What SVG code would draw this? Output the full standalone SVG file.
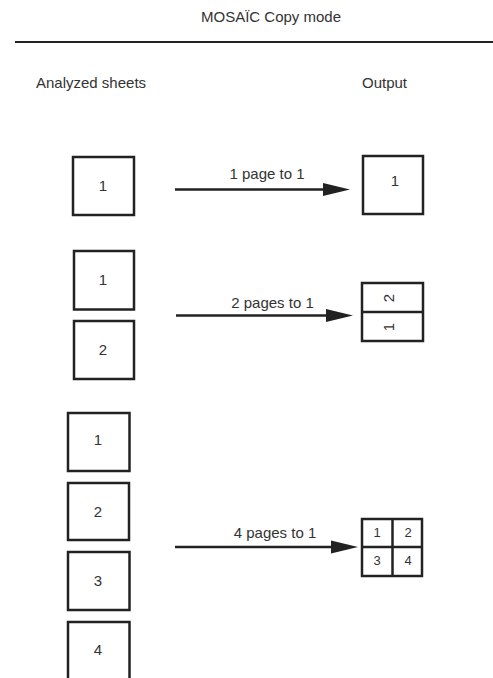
<svg xmlns="http://www.w3.org/2000/svg" width="493" height="678" viewBox="0 0 493 678">
<defs>
<style>
text{font-family:"Liberation Sans",Arial,sans-serif;fill:#333;font-size:15px}
.c{text-anchor:middle}
.s{font-size:13px}
.box{fill:#fff;stroke:#222;stroke-width:2.5}
.ln{stroke:#222;stroke-width:2.5;fill:none}
.conn line{stroke:#222;stroke-width:2.5}
.conn polygon{fill:#222}
</style>
</defs>
<rect width="493" height="678" fill="#fff"/>
<g id="header">
<text class="c" x="271" y="22">MOSAÏC Copy mode</text>
<line x1="15" y1="42" x2="493" y2="42" stroke="#222" stroke-width="2"/>
<text x="36" y="88">Analyzed sheets</text>
<text x="362" y="88">Output</text>
</g>
<g id="r1-in">
<rect class="box" x="73" y="157" width="61" height="58"/>
<text class="c" x="103" y="191">1</text>
</g>
<g id="r1-out">
<rect class="box" x="363" y="156" width="60" height="58"/>
<text class="c" x="395" y="186">1</text>
</g>
<g id="r2-in1">
<rect class="box" x="74" y="251" width="60" height="58.5"/>
<text class="c" x="103" y="285">1</text>
</g>
<g id="r2-in2">
<rect class="box" x="74" y="321" width="60" height="58"/>
<text class="c" x="103" y="355">2</text>
</g>
<g id="r2-out">
<rect class="box" x="362" y="283" width="61" height="58"/>
<line class="ln" x1="362" y1="312" x2="423" y2="312"/>
<text class="c" x="388" y="298" dominant-baseline="central" transform="rotate(-90 388 298)">2</text>
<text class="c" x="388" y="327" dominant-baseline="central" transform="rotate(-90 388 327)">1</text>
</g>
<g id="r3-in1">
<rect class="box" x="68" y="413" width="61.5" height="58"/>
<text class="c" x="98" y="445">1</text>
</g>
<g id="r3-in2">
<rect class="box" x="68" y="483" width="61" height="57"/>
<text class="c" x="98" y="517">2</text>
</g>
<g id="r3-in3">
<rect class="box" x="68" y="552" width="61.5" height="58"/>
<text class="c" x="98" y="586">3</text>
</g>
<g id="r3-in4">
<rect class="box" x="68" y="622" width="61.5" height="60"/>
<text class="c" x="98" y="655">4</text>
</g>
<g id="r3-out">
<rect class="box" x="362" y="519" width="60" height="57"/>
<line class="ln" x1="392.5" y1="519" x2="392.5" y2="576"/>
<line class="ln" x1="362" y1="547" x2="422" y2="547"/>
<text class="c s" x="377" y="537">1</text>
<text class="c s" x="408" y="537">2</text>
<text class="c s" x="377" y="565">3</text>
<text class="c s" x="408" y="565">4</text>
</g>
<g id="connectors" class="conn">
<line x1="175" y1="189.5" x2="324" y2="189.5"/>
<polygon points="323,183 350,189.5 323,196"/>
<text class="c" x="267" y="179">1 page to 1</text>
<line x1="176" y1="315.5" x2="327" y2="315.5"/>
<polygon points="326,309 353,315.5 326,322"/>
<text class="c" x="272.5" y="308">2 pages to 1</text>
<line x1="175" y1="547" x2="332" y2="547"/>
<polygon points="331,540.5 358,547 331,553.5"/>
<text class="c" x="275" y="538">4 pages to 1</text>
</g>
</svg>
